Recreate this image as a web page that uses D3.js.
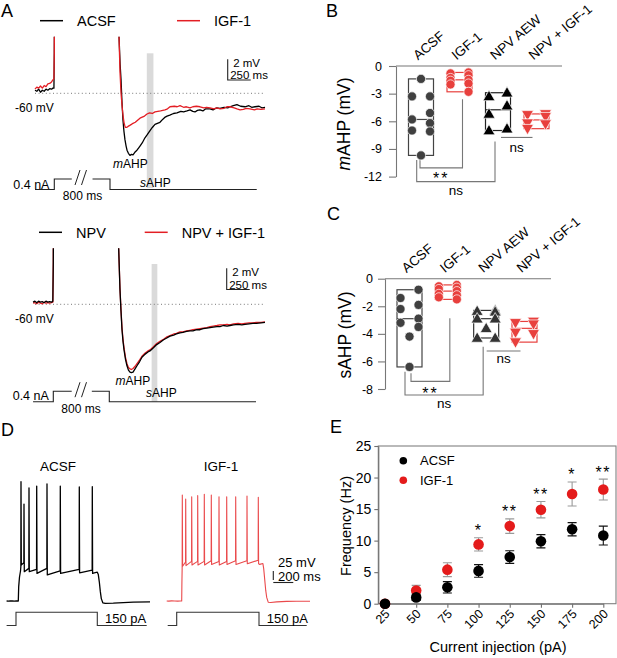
<!DOCTYPE html>
<html>
<head>
<meta charset="utf-8">
<script src="https://cdn.jsdelivr.net/npm/d3@7"></script>
<style>
body { margin: 0; background: #fff; }
</style>
</head>
<body>
<div id="fig"></div>
<script>
var width = 617, height = 658;
var font = "Arial, 'Liberation Sans', Helvetica, sans-serif";

// ---------- data: panel A traces, [ms, mV] ----------
// top pair (ACSF / IGF-1); pre = before pulse onset, post = after pulse offset
var acsfPre = [[-210,-59.7],[-190,-59.8],[-170,-59.6],[-150,-59.9],[-130,-59.7],[-110,-59.8],[-90,-59.6],[-70,-59.7],[-50,-59.55],[-30,-59.6],[-15,-59.5],[-4,-59.5],[0,-56],[6,-40]];
var igfPre = [[-210,-59.6],[-190,-59.4],[-170,-59.5],[-150,-59.3],[-130,-59.5],[-110,-59.25],[-90,-59.35],[-70,-59.1],[-50,-59.05],[-30,-58.9],[-15,-58.7],[-4,-58.6],[0,-56],[6,-40]];
var acsfPost = [[80,-48],[98,-54.5],[110,-57.2],[120,-58.7],[130,-60.8],[141,-62.6],[152,-63.7],[163,-64.5],[175,-65.1],[185,-65.5],[200,-65.8],[217,-66.0],[233,-65.9],[250,-65.95],[270,-65.7],[293,-65.5],[310,-65.3],[326,-65.1],[350,-64.8],[380,-64.3],[405,-64.0],[435,-63.6],[460,-63.3],[489,-63.0],[515,-62.9],[543,-62.8],[575,-62.5],[600,-62.3],[620,-62.2],[650,-62.1],[690,-61.95],[728,-61.9],[770,-61.75],[800,-61.8],[837,-61.7],[870,-61.6],[900,-61.75],[924,-61.8],[950,-61.65],[978,-61.6],[1010,-61.7],[1040,-61.5],[1087,-61.5],[1120,-61.6],[1160,-61.4],[1196,-61.45],[1240,-61.35],[1280,-61.4],[1304,-61.3],[1340,-61.2],[1380,-61.1],[1420,-61.25],[1467,-61.3],[1510,-61.2],[1540,-61.35],[1576,-61.3],[1620,-61.25],[1650,-61.4],[1685,-61.35]];
var igfPost = [[80,-48],[98,-54.5],[109,-58.0],[120,-60.0],[130,-61.1],[141,-62.1],[152,-62.8],[160,-63.1],[168,-63.3],[180,-63.3],[196,-63.2],[215,-63.1],[233,-63.0],[250,-62.9],[275,-62.8],[300,-62.6],[326,-62.4],[350,-62.3],[375,-62.2],[402,-62.0],[430,-61.9],[460,-61.95],[489,-61.8],[520,-61.75],[550,-61.7],[598,-61.6],[625,-61.5],[652,-61.3],[700,-61.25],[730,-61.3],[761,-61.2],[800,-61.35],[830,-61.3],[870,-61.4],[900,-61.3],[940,-61.25],[978,-61.3],[1020,-61.4],[1050,-61.35],[1087,-61.4],[1130,-61.5],[1160,-61.4],[1196,-61.5],[1240,-61.45],[1270,-61.3],[1304,-61.3],[1350,-61.4],[1380,-61.5],[1413,-61.6],[1450,-61.55],[1480,-61.45],[1522,-61.5],[1570,-61.6],[1600,-61.5],[1640,-61.55],[1685,-61.5]];
// bottom pair (NPV / NPV + IGF-1)
var npvPre = [[-220,-59.8],[-200,-59.7],[-180,-59.85],[-160,-59.7],[-140,-59.8],[-120,-59.75],[-100,-59.85],[-80,-59.7],[-60,-59.8],[-40,-59.75],[-20,-59.8],[-5,-59.7],[0,-56],[6,-40]];
var npvIgfPre = [[-220,-59.9],[-200,-59.85],[-180,-59.95],[-160,-59.8],[-140,-59.9],[-120,-59.95],[-100,-59.8],[-80,-59.9],[-60,-59.85],[-40,-59.9],[-20,-59.85],[-5,-59.8],[0,-56],[6,-40]];
var npvPost = [[85,-48],[100,-54.2],[116,-58.6],[127,-60.6],[138,-62.4],[149,-63.5],[160,-64.3],[176,-65.2],[192,-65.8],[208,-66.2],[225,-66.4],[240,-66.45],[258,-66.4],[280,-66.1],[301,-65.8],[330,-65.4],[355,-65.0],[390,-64.7],[420,-64.5],[442,-64.4],[480,-64.1],[515,-63.8],[551,-63.6],[590,-63.35],[620,-63.2],[660,-63.0],[700,-62.9],[730,-62.8],[768,-62.7],[800,-62.65],[840,-62.55],[877,-62.5],[910,-62.5],[950,-62.4],[986,-62.4],[1020,-62.3],[1060,-62.25],[1095,-62.2],[1130,-62.15],[1170,-62.1],[1203,-62.1],[1240,-62.0],[1280,-62.05],[1312,-62.0],[1350,-61.95],[1400,-61.9],[1440,-61.95],[1475,-61.9],[1520,-61.85],[1560,-61.8],[1600,-61.8],[1650,-61.75],[1692,-61.7]];
var npvIgfPost = [[85,-48],[100,-54.2],[116,-58.5],[127,-60.5],[138,-62.2],[149,-63.3],[160,-64.1],[176,-65.0],[192,-65.6],[208,-65.95],[225,-66.1],[240,-66.15],[258,-66.05],[280,-65.85],[301,-65.6],[330,-65.25],[355,-64.9],[390,-64.6],[420,-64.4],[442,-64.3],[480,-64.0],[515,-63.7],[551,-63.5],[590,-63.3],[620,-63.1],[660,-62.95],[700,-62.8],[730,-62.75],[768,-62.6],[800,-62.6],[840,-62.5],[877,-62.45],[910,-62.4],[950,-62.35],[986,-62.3],[1020,-62.25],[1060,-62.2],[1095,-62.1],[1130,-62.05],[1170,-62.0],[1203,-61.95],[1240,-61.95],[1280,-61.9],[1312,-61.95],[1350,-61.85],[1400,-61.8],[1440,-61.85],[1475,-61.8],[1520,-61.75],[1560,-61.75],[1600,-61.7],[1650,-61.7],[1692,-61.65]];
// current step, [ms, nA]
var stimPreTop = [[-210,0],[0,0],[0,0.4],[190,0.4]];
var stimPostTop = [[-190,0.4],[0,0.4],[0,0],[1595,0]];
var stimPreBot = [[-220,0],[0,0],[0,0.4],[200,0.4]];
var stimPostBot = [[-190,0.4],[0,0.4],[0,0],[1595,0]];
var sahpWinTop = [400, 472];
var sahpWinBot = [460, 522];

// ---------- data: panels B and C ----------
var groups = ["ACSF", "IGF-1", "NPV AEW", "NPV + IGF-1"];
var mahpACSF = [-1.4, -3.3, -3.3, -5.1, -5.8, -6.2, -7.0, -7.1, -9.7];
var mahpIGF = [-0.7, -0.8, -1.0, -1.3, -1.5, -1.6, -1.9, -2.0, -2.8];
var mahpNPV = [-2.9, -3.3, -4.3, -5.2, -6.8, -7.0];
var mahpNPVIGF = [-5.2, -5.3, -5.5, -6.2, -6.3, -6.8];
var sahpACSF = [-0.8, -1.4, -1.9, -2.2, -2.9, -3.2, -3.5, -4.2, -6.4];
var sahpIGF = [-0.45, -0.55, -0.65, -0.75, -0.9, -1.1, -1.2, -1.35, -1.5];
var sahpNPV = [-2.3, -2.35, -2.4, -2.9, -2.9, -3.6, -4.3, -4.3];
var sahpNPVIGF = [-3.1, -3.2, -3.3, -3.9, -4.0, -4.6];
var mahpTicks = [0, -3, -6, -9, -12];
var sahpTicks = [0, -2, -4, -6, -8];

// ---------- data: panel D spike trains ----------
var dAcsfPre = [[-117,-60],[-100,-60.1],[-80,-59.9],[-60,-60],[-40,-60.1],[-20,-60],[0,-60]];
var dAcsfOnset = [[4,-48],[12,-40],[22,-35]];
var dAcsfSpikeT = [27, 57, 107, 184, 287, 420, 610, 740];
var dAcsfPeak = [39.4, 20.8, 34.2, 35.8, 37.5, 35.8, 35, 35.3];
var dAcsfThresh = [-31.4, -28, -32.8, -33.6, -32.8, -34.8, -33.6, -34.2];
var dAcsfTrough = [-30, -35.6, -35.6, -37, -38.3, -37, -36.5, -37];
var dAcsfTail = [[760,-36.5],[790,-36],[800,-38],[810,-44],[820,-52],[830,-58],[845,-61.5],[870,-62],[950,-61.8],[1050,-61.3],[1150,-61],[1317,-60.7]];
var dIgfPre = [[-150,-60],[-130,-60.1],[-100,-59.9],[-70,-60],[-40,-60.1],[-15,-60],[0,-60]];
var dIgfOnset = [[2,-45]];
var dIgfSpikeT = [6, 40, 100, 160, 226, 296, 373, 450, 540, 653, 766];
var dIgfPeak = [28.3, 25, 26.9, 27.8, 28.9, 28.3, 26.9, 26.9, 26.9, 27.5, 26.4];
var dIgfThresh = [-33, -27.5, -27, -27, -27, -26.5, -27, -27, -26.5, -26.5, -26];
var dIgfTrough = [-31, -30.5, -30, -30, -30, -29.5, -30, -29.5, -29.5, -29, -29];
var dIgfTail = [[780,-29.5],[812,-28.8],[820,-33],[830,-42],[840,-51],[850,-57],[865,-61],[890,-61.3],[950,-60.7],[1050,-60.3],[1150,-60.2],[1283,-60.2]];
var dStimAcsf = [[-117,0],[-23,0],[-23,150],[790,150],[790,0],[1284,0]];
var dStimIgf = [[-140,0],[-50,0],[-50,150],[773,150],[773,0],[1250,0]];

// ---------- data: panel E ----------
var currents = [25, 50, 75, 100, 125, 150, 175, 200];
var freqACSF = [0, 1.0, 2.6, 5.2, 7.4, 9.9, 11.8, 10.8];
var semACSF = [0.1, 0.5, 0.9, 1.0, 1.0, 1.05, 1.05, 1.5];
var freqIGF = [0, 2.1, 5.4, 9.4, 12.3, 14.9, 17.4, 18.1];
var semIGF = [0.1, 0.8, 1.1, 1.05, 1.15, 1.3, 1.9, 1.65];
var freqStars = ["", "", "", "*", "**", "**", "*", "**"];
var freqTicks = [0, 5, 10, 15, 20, 25];

var red = "#e31e24";
var redPt = "#e8403d";
var redD = "#ea4a4c";
var darkPt = "#404040";

var svg = d3.select("#fig").append("svg")
    .attr("width", width)
    .attr("height", height)
    .attr("font-family", font);

function label(g, x, y, s, size, anchor) {
  return g.append("text")
      .attr("x", x).attr("y", y)
      .attr("font-size", size)
      .attr("text-anchor", anchor || "start")
      .attr("fill", "#000")
      .text(s);
}

label(svg, 1, 17, "A", 18);
label(svg, 326, 17, "B", 18);
label(svg, 327, 220, "C", 18);
label(svg, 1, 436, "D", 18);
label(svg, 330, 433, "E", 18);

// ================= panel A =================
function tracePanel(cfg) {
  var g = svg.append("g");
  var y = d3.scaleLinear().domain([-60, -50]).range([cfg.y60, cfg.y60 - 10 * cfg.mvPx]);
  var xPre = d3.scaleLinear().domain([0, 250]).range([cfg.onX, cfg.onX + 23]);
  var xPost = d3.scaleLinear().domain([0, 250]).range([cfg.offX, cfg.offX + 23]);
  var iy = d3.scaleLinear().domain([0, 0.4]).range([cfg.stimBase, cfg.stimBase - 10.5]);

  g.append("rect")
      .attr("x", xPost(cfg.win[0]))
      .attr("width", xPost(cfg.win[1]) - xPost(cfg.win[0]))
      .attr("y", cfg.winTop)
      .attr("height", cfg.winBot - cfg.winTop)
      .attr("fill", "#dadada");

  g.append("line")
      .attr("x1", 35).attr("x2", 265)
      .attr("y1", y(-60)).attr("y2", y(-60))
      .attr("stroke", "#777")
      .attr("stroke-width", 1)
      .attr("stroke-dasharray", "1,2.6");

  svg.append("clipPath").attr("id", "clip" + cfg.id)
    .append("rect")
      .attr("x", 0).attr("y", cfg.clipTop)
      .attr("width", 300).attr("height", 200);

  var tg = g.append("g").attr("clip-path", "url(#clip" + cfg.id + ")");
  var linePre = d3.line().x(function(d) { return xPre(d[0]); }).y(function(d) { return y(d[1]); });
  var linePost = d3.line().x(function(d) { return xPost(d[0]); }).y(function(d) { return y(d[1]); });
  cfg.traces.forEach(function(tr) {
    [linePre(tr.pre), linePost(tr.post)].forEach(function(dd) {
      tg.append("path")
          .attr("d", dd)
          .attr("fill", "none")
          .attr("stroke", tr.color)
          .attr("stroke-width", 1.3)
          .attr("stroke-linejoin", "round");
    });
  });

  // current step
  var sPre = d3.line().x(function(d) { return xPre(d[0]); }).y(function(d) { return iy(d[1]); });
  var sPost = d3.line().x(function(d) { return xPost(d[0]); }).y(function(d) { return iy(d[1]); });
  [sPre(cfg.stimPre), sPost(cfg.stimPost)].forEach(function(dd) {
    g.append("path").attr("d", dd)
        .attr("fill", "none").attr("stroke", "#222").attr("stroke-width", 1.1);
  });
  [0, 6.5].forEach(function(o) {
    g.append("line")
        .attr("x1", cfg.brk + o).attr("y1", iy(0.4) + 6)
        .attr("x2", cfg.brk + o + 5).attr("y2", iy(0.4) - 9)
        .attr("stroke", "#222").attr("stroke-width", 1);
  });

  // legend
  cfg.legend.forEach(function(l) {
    g.append("line")
        .attr("x1", l.x).attr("x2", l.x + 23)
        .attr("y1", cfg.legY).attr("y2", cfg.legY)
        .attr("stroke", l.color).attr("stroke-width", 1.5);
    label(g, l.x + 37, cfg.legY + 5.3, l.name, 14.5);
  });

  // scale bar: 2 mV / 250 ms
  var sbx = cfg.sb[0], sbt = cfg.sb[1];
  var sbb = sbt + (y(-60) - y(-58));
  g.append("path")
      .attr("d", "M" + sbx + "," + sbt + "V" + sbb + "H" + (sbx + xPost(250) - xPost(0)))
      .attr("fill", "none").attr("stroke", "#222").attr("stroke-width", 1.1);
  label(g, sbx + 5.5, sbt + 8, "2 mV", 11.5);
  label(g, sbx + 2.5, sbb - 1, "250 ms", 11.5);

  label(g, 15, y(-60) + 19, "-60 mV", 12);
  label(g, cfg.nA[0], cfg.nA[1], "0.4 nA", 12.5);
  label(g, cfg.ms800[0], cfg.ms800[1], "800 ms", 12, "middle");

  var m = label(g, cfg.mLab[0], cfg.mLab[1], "", 12);
  m.append("tspan").attr("font-style", "italic").text("m");
  m.append("tspan").text("AHP");
  var s = label(g, cfg.sLab[0], cfg.sLab[1], "", 12);
  s.append("tspan").attr("font-style", "italic").text("s");
  s.append("tspan").text("AHP");
}

tracePanel({
  id: "top", y60: 93.3, mvPx: 10.35, onX: 54.3, offX: 110, clipTop: 36.7,
  stimBase: 189.5, stimPre: stimPreTop, stimPost: stimPostTop, brk: 75,
  win: sahpWinTop, winTop: 53.3, winBot: 188,
  traces: [{pre: acsfPre, post: acsfPost, color: "#000"},
           {pre: igfPre, post: igfPost, color: red}],
  legend: [{name: "ACSF", color: "#000", x: 40}, {name: "IGF-1", color: red, x: 177}],
  legY: 20.7, sb: [227.7, 59.3],
  mLab: [113, 168.3], sLab: [140, 186.7], nA: [13.3, 188.5], ms800: [82.5, 200]
});

tracePanel({
  id: "bot", y60: 304.3, mvPx: 10.6, onX: 53.3, offX: 109.3, clipTop: 248.3,
  stimBase: 401.7, stimPre: stimPreBot, stimPost: stimPostBot, brk: 75,
  win: sahpWinBot, winTop: 264, winBot: 401.7,
  traces: [{pre: npvIgfPre, post: npvIgfPost, color: red},
           {pre: npvPre, post: npvPost, color: "#000"}],
  legend: [{name: "NPV", color: "#000", x: 39}, {name: "NPV + IGF-1", color: red, x: 144.7}],
  legY: 232.3, sb: [226.7, 268.3],
  mLab: [115.5, 384.5], sLab: [146, 397], nA: [12.7, 399.5], ms800: [81, 413]
});

// ================= panels B and C =================
// points closer than one marker are chained into runs and alternate right/left
function swarm(vals, y, d, gap) {
  var pts = vals.map(function(v) { return {v: v, py: y(v)}; })
      .sort(function(a, b) { return a.py - b.py; });
  var runs = [], cur = [];
  pts.forEach(function(p, i) {
    if (i > 0 && p.py - pts[i - 1].py >= gap) { runs.push(cur); cur = []; }
    cur.push(p);
  });
  runs.push(cur);
  runs.forEach(function(run) {
    run.forEach(function(p, i) {
      p.dx = run.length === 1 ? 0 : (i % 2 === 0 ? d : -d);
    });
  });
  return pts;
}

function boxPanel(cfg) {
  var g = svg.append("g");
  var y = cfg.y, x = cfg.x;

  g.append("line")
      .attr("x1", cfg.axisX).attr("x2", cfg.axisX + 166)
      .attr("y1", y(0)).attr("y2", y(0))
      .attr("stroke", "#777").attr("stroke-width", 1.1);

  var ax = g.append("g")
      .attr("transform", "translate(" + cfg.axisX + ",0)")
      .call(d3.axisLeft(y).tickValues(cfg.ticks).tickSize(7).tickSizeOuter(0)
            .tickPadding(cfg.pad).tickFormat(String));
  ax.attr("font-family", font).attr("font-size", 12.5);
  ax.selectAll("path, line").attr("stroke", "#777").attr("stroke-width", 1.1);
  ax.selectAll("text").attr("fill", "#000");

  var yl = g.append("text")
      .attr("transform", "translate(" + cfg.yLab[0] + "," + cfg.yLab[1] + ") rotate(-90)")
      .attr("text-anchor", "middle")
      .attr("font-size", 17.5);
  cfg.yTitle.forEach(function(p) {
    yl.append("tspan").attr("font-style", p[1] ? "italic" : "normal").text(p[0]);
  });

  groups.forEach(function(c) {
    g.append("text")
        .attr("transform", "translate(" + (x(c) - 3) + "," + (y(0) - 5.5) + ") rotate(-40)")
        .attr("font-size", 13.5)
        .text(c);
  });

  // significance brackets (heights in mV)
  cfg.brackets.forEach(function(b) {
    var p = d3.path();
    if (b.legA != null) {
      p.moveTo(b.xa, y(b.legA)); p.lineTo(b.xa, y(b.base));
      p.lineTo(b.xb, y(b.base)); p.lineTo(b.xb, y(b.legB));
    } else {
      p.moveTo(b.xa, y(b.base)); p.lineTo(b.xb, y(b.base));
    }
    g.append("path").attr("d", p.toString())
        .attr("fill", "none").attr("stroke", "#777").attr("stroke-width", 1.1);
    var t = label(g, (b.xa + b.xb) / 2, y(b.text), b.label, b.label === "ns" ? 13.5 : 16, "middle");
    if (b.label !== "ns") t.attr("letter-spacing", 2);
  });

  cfg.sets.forEach(function(s, i) {
    var cx = x(groups[i]);
    var lo = d3.min(s.vals), hi = d3.max(s.vals), med = d3.median(s.vals);
    g.append("rect")
        .attr("x", cx - 12.5).attr("width", 25)
        .attr("y", y(hi)).attr("height", y(lo) - y(hi))
        .attr("fill", "none").attr("stroke", s.box).attr("stroke-width", 1.2);
    g.append("line")
        .attr("x1", cx - 12.5).attr("x2", cx + 12.5)
        .attr("y1", y(med)).attr("y2", y(med))
        .attr("stroke", s.box).attr("stroke-width", 1.2);
  });

  cfg.sets.forEach(function(s, i) {
    var cx = x(groups[i]);
    var pts = swarm(s.vals, y, 9, 8.6);
    var sym = d3.symbol().type(s.shape === "circle" ? d3.symbolCircle : d3.symbolTriangle)
        .size(s.shape === "circle" ? 66 : 62);
    g.selectAll(null).data(pts).enter().append("path")
        .attr("d", sym)
        .attr("transform", function(d) {
          return "translate(" + (cx + d.dx) + "," + (d.py + (s.shape === "down" ? -0.8 : s.shape === "up" ? 0.8 : 0)) + ")" +
                 (s.shape === "down" ? " rotate(180)" : "");
        })
        .attr("fill", s.color)
        .attr("stroke", "#fff")
        .attr("stroke-width", 0.7);
  });
}

var bY = d3.scaleLinear().domain([-12, 0]).range([176.6, 66]);
var bX = d3.scalePoint().domain(groups).range([421, 536.5]);
boxPanel({
  y: bY, x: bX, axisX: 396, ticks: mahpTicks, pad: 7,
  yLab: [350, 124], yTitle: [["m", true], ["AHP (mV)", false]],
  sets: [
    {vals: mahpACSF, color: darkPt, box: "#444", shape: "circle"},
    {vals: mahpIGF, color: redPt, box: redPt, shape: "circle"},
    {vals: mahpNPV, color: "#000", box: "#222", shape: "up"},
    {vals: mahpNPVIGF, color: redPt, box: redPt, shape: "down"}
  ],
  brackets: [
    {xa: bX("ACSF") - 1, xb: bX("IGF-1") + 3, legA: -9.95, legB: -3.6, base: -11.05, text: -12.8, label: "**"},
    {xa: bX("ACSF") - 4.3, xb: bX("NPV AEW") - 3, legA: -10.2, legB: -8.2, base: -12.55, text: -14.0, label: "ns"},
    {xa: bX("NPV AEW") + 3, xb: bX("NPV + IGF-1") - 4, base: -7.75, text: -9.3, label: "ns"}
  ]
});

var cY = d3.scaleLinear().domain([-8, 0]).range([389, 278.7]);
var cX = d3.scalePoint().domain(groups).range([409.5, 524.5]);
boxPanel({
  y: cY, x: cX, axisX: 385, ticks: sahpTicks, pad: 5,
  yLab: [351, 335], yTitle: [["sAHP (mV)", false]],
  sets: [
    {vals: sahpACSF, color: darkPt, box: "#444", shape: "circle"},
    {vals: sahpIGF, color: redPt, box: redPt, shape: "circle"},
    {vals: sahpNPV, color: "#333", box: "#333", shape: "up"},
    {vals: sahpNPVIGF, color: redPt, box: redPt, shape: "down"}
  ],
  brackets: [
    {xa: cX("ACSF") + 1.5, xb: cX("IGF-1") + 2, legA: -6.85, legB: -2.87, base: -7.45, text: -8.72, label: "**"},
    {xa: cX("ACSF") - 4.5, xb: cX("NPV AEW") - 3, legA: -6.75, legB: -4.93, base: -8.43, text: -9.4, label: "ns"},
    {xa: cX("NPV AEW") + 0.5, xb: cX("NPV + IGF-1") - 4, base: -5.24, text: -6.09, label: "ns"}
  ]
});

// ================= panel D =================
function spikeTrain(pre, onset, spT, peak, thresh, trough, tail) {
  var pts = pre.concat(onset);
  spT.forEach(function(t, i) {
    pts.push([t - 1.5, thresh[i]], [t, peak[i]], [t + 3, trough[i]]);
  });
  return pts.concat(tail);
}

var dY = d3.scaleLinear().domain([-60, 40]).range([601, 481]);
var dI = d3.scaleLinear().domain([0, 150]).range([625.5, 612.2]);
var dg = svg.append("g");
[
  {x0: 18.3, color: "#000", sw: 1.3, stim: dStimAcsf, title: "ACSF", tx: 58, px: 105,
   pts: spikeTrain(dAcsfPre, dAcsfOnset, dAcsfSpikeT, dAcsfPeak, dAcsfThresh, dAcsfTrough, dAcsfTail)},
  {x0: 181.7, color: redD, sw: 1.1, stim: dStimIgf, title: "IGF-1", tx: 221, px: 266.7,
   pts: spikeTrain(dIgfPre, dIgfOnset, dIgfSpikeT, dIgfPeak, dIgfThresh, dIgfTrough, dIgfTail)}
].forEach(function(tr) {
  var dx = d3.scaleLinear().domain([0, 200]).range([tr.x0, tr.x0 + 20]);
  dg.append("path")
      .attr("d", d3.line().x(function(d) { return dx(d[0]); }).y(function(d) { return dY(d[1]); })(tr.pts))
      .attr("fill", "none").attr("stroke", tr.color).attr("stroke-width", tr.sw)
      .attr("stroke-linejoin", "round");
  dg.append("path")
      .attr("d", d3.line().x(function(d) { return dx(d[0]); }).y(function(d) { return dI(d[1]); })(tr.stim))
      .attr("fill", "none").attr("stroke", "#333").attr("stroke-width", 1.1);
  label(dg, tr.tx, 470.7, tr.title, 13.5, "middle");
  label(dg, tr.px, 622.5, "150 pA", 13);
});
dg.append("line").attr("x1", 273.3).attr("x2", 273.3)
    .attr("y1", dY(-35)).attr("y2", dY(-60) - 21)
    .attr("stroke", "#222").attr("stroke-width", 1.1);
dg.append("line").attr("x1", 273.3).attr("x2", 293.3)
    .attr("y1", 582.5).attr("y2", 582.5)
    .attr("stroke", "#222").attr("stroke-width", 1.1);
label(dg, 278, 566.5, "25 mV", 13);
label(dg, 278, 581, "200 ms", 13);

// ================= panel E =================
var eX = d3.scalePoint().domain(currents).range([385, 603.3]);
var eY = d3.scaleLinear().domain([0, 25]).range([603.7, 446]);
var eg = svg.append("g");

eg.append("rect")
    .attr("x", 378.3).attr("y", eY(25))
    .attr("width", 616 - 378.3).attr("height", eY(0) - eY(25))
    .attr("fill", "none").attr("stroke", "#808080").attr("stroke-width", 1.1);

var eyAx = eg.append("g")
    .attr("transform", "translate(378.3,0)")
    .call(d3.axisLeft(eY).tickValues(freqTicks).tickSize(4).tickSizeOuter(0).tickPadding(3));
var exAx = eg.append("g")
    .attr("transform", "translate(0," + eY(0) + ")")
    .call(d3.axisBottom(eX).tickSize(4).tickSizeOuter(0));
[eyAx, exAx].forEach(function(a) {
  a.attr("font-family", font);
  a.selectAll("path, line").attr("stroke", "#707070").attr("stroke-width", 1.1);
  a.selectAll("text").attr("fill", "#000");
});
eyAx.attr("font-size", 14);
exAx.attr("font-size", 12.5);
exAx.selectAll("text")
    .attr("text-anchor", "end")
    .attr("dy", null)
    .attr("y", null)
    .attr("transform", "translate(5,11) rotate(-45)");

eg.append("text")
    .attr("transform", "translate(350.5,526) rotate(-90)")
    .attr("text-anchor", "middle").attr("font-size", 14.5)
    .text("Frequency (Hz)");
label(eg, 498, 652, "Current injection (pA)", 14.5, "middle");

function errorBars(vals, sem, color) {
  currents.forEach(function(c, i) {
    var x = eX(c), t = eY(vals[i] + sem[i]), b = eY(vals[i] - sem[i]);
    var p = d3.path();
    p.moveTo(x, t); p.lineTo(x, b);
    p.moveTo(x - 4.5, t); p.lineTo(x + 4.5, t);
    p.moveTo(x - 4.5, b); p.lineTo(x + 4.5, b);
    eg.append("path").attr("d", p.toString())
        .attr("fill", "none").attr("stroke", color).attr("stroke-width", 1.1);
  });
}
errorBars(freqIGF, semIGF, "#9a9a9a");
eg.selectAll(null).data(freqIGF).enter().append("circle")
    .attr("cx", function(d, i) { return eX(currents[i]); })
    .attr("cy", function(d) { return eY(d); })
    .attr("r", 5.3).attr("fill", "#e41b1b");
errorBars(freqACSF, semACSF, "#111");
eg.selectAll(null).data(freqACSF).enter().append("circle")
    .attr("cx", function(d, i) { return eX(currents[i]); })
    .attr("cy", function(d) { return eY(d); })
    .attr("r", 5.3).attr("fill", "#000");

freqStars.forEach(function(s, i) {
  if (!s) return;
  label(eg, eX(currents[i]), eY(freqIGF[i] + semIGF[i]) - 1.5, s, 16, "middle")
      .attr("letter-spacing", 1.5);
});

[{name: "ACSF", color: "#000", y: 460.7}, {name: "IGF-1", color: "#e41b1b", y: 480.3}].forEach(function(l) {
  eg.append("circle").attr("cx", 403.3).attr("cy", l.y).attr("r", 3.8).attr("fill", l.color);
  label(eg, 420, l.y + 4.7, l.name, 13);
});
</script>
</body>
</html>
